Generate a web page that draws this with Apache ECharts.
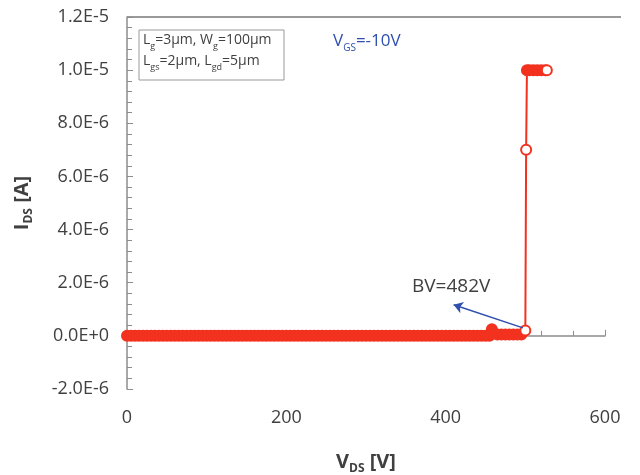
<!DOCTYPE html>
<html>
<head>
<meta charset="utf-8">
<script src="https://cdn.jsdelivr.net/npm/echarts@6/dist/echarts.min.js"></script>
<style>
html, body { margin: 0; padding: 0; background: #fff; }
#main { width: 640px; height: 475px; }
</style>
</head>
<body>
<div id="main"></div>
<script>
// V_DS sweep [V]
var vds = [
    0, 5, 10, 15, 20, 25, 30, 35, 40, 45, 50, 55, 60, 65, 70, 75, 80, 85, 90, 95,
    100, 105, 110, 115, 120, 125, 130, 135, 140, 145, 150, 155, 160, 165, 170, 175, 180, 185, 190, 195,
    200, 205, 210, 215, 220, 225, 230, 235, 240, 245, 250, 255, 260, 265, 270, 275, 280, 285, 290, 295,
    300, 305, 310, 315, 320, 325, 330, 335, 340, 345, 350, 355, 360, 365, 370, 375, 380, 385, 390, 395,
    400, 405, 410, 415, 420, 425, 430, 435, 440, 445, 450, 455,
    458, 460, 465, 470, 475, 480, 485, 490, 495,
    500, 501, 502, 505, 510, 515, 520, 525, 527
];
// I_DS [A]
var ids = [
    0, 0, 0, 0, 0, 0, 0, 0, 0, 0, 0, 0, 0, 0, 0, 0, 0, 0, 0, 0,
    0, 0, 0, 0, 0, 0, 0, 0, 0, 0, 0, 0, 0, 0, 0, 0, 0, 0, 0, 0,
    0, 0, 0, 0, 0, 0, 0, 0, 0, 0, 0, 0, 0, 0, 0, 0, 0, 0, 0, 0,
    0, 0, 0, 0, 0, 0, 0, 0, 0, 0, 0, 0, 0, 0, 0, 0, 0, 0, 0, 0,
    0, 0, 0, 0, 0, 0, 0, 0, 0, 0, 0, 0,
    2.5e-7, 1e-7, 5e-8, 5e-8, 5e-8, 5e-8, 5e-8, 5e-8, 5e-8,
    2e-7, 7e-6, 1e-5, 1e-5, 1e-5, 1e-5, 1e-5, 1e-5, 1e-5
];
// points drawn as open circles (not hidden under the dense sweep)
var openPoints = [500, 501, 527];
// breakdown annotation: arrow from BV point to the label
var bvArrowFrom = [497, 3e-7];
var bvArrowTo = [410, 1.17e-6];

var red = '#f2321f';
var blue = '#2f4fae';
var grey = '#8c8c8c';
var ink = '#404040';

function sciLabel(v) {
    if (Math.abs(v) < 1e-12) return '0.0E+0';
    var e = Math.floor(Math.log10(Math.abs(v)) + 1e-9);
    var m = v / Math.pow(10, e);
    return m.toFixed(1) + 'E' + (e < 0 ? '-' : '+') + Math.abs(e);
}

// rich styles for axis names with subscripts
var nameRich = {
    a: { fontSize: 20, fontWeight: 'bold', color: ink, lineHeight: 26, fontFamily: 'Open Sans' },
    s: { fontSize: 12, fontWeight: 'bold', color: ink, lineHeight: 15, verticalAlign: 'bottom', fontFamily: 'Open Sans' }
};

function CurveChart() {
    var myChart = echarts.init(document.getElementById('main'));

    var data = vds.map(function (v, i) {
        var item = { value: [v, ids[i]] };
        if (openPoints.indexOf(v) >= 0) {
            item.itemStyle = { color: '#fff' };
        }
        return item;
    });

    var option = {
        animation: false,
        textStyle: { fontFamily: 'Open Sans' },
        grid: { left: 127, right: 35, top: 17, bottom: 86, outerBoundsMode: 'none' },
        xAxis: {
            type: 'value',
            min: 0,
            max: 600,
            interval: 200,
            name: '{a|V}{s|DS}{a| [V]}',
            nameLocation: 'middle',
            nameGap: 60,
            nameTextStyle: { rich: nameRich },
            axisLine: { lineStyle: { color: grey, width: 1.5 } },
            axisTick: { inside: true, length: 6, lineStyle: { color: grey } },
            minorTick: { show: true, splitNumber: 5, length: 5, lineStyle: { color: grey } },
            axisLabel: { fontSize: 18, color: ink, margin: 20 },
            splitLine: { show: false }
        },
        yAxis: {
            type: 'value',
            min: -2e-6,
            max: 1.2e-5,
            interval: 2e-6,
            name: '{a|I}{s|DS}{a| [A]}',
            nameLocation: 'middle',
            nameGap: 92,
            nameRotate: 90,
            nameTextStyle: { rich: nameRich },
            axisLine: { show: true, lineStyle: { color: grey, width: 1.5 } },
            axisTick: { show: true, inside: true, length: 6, lineStyle: { color: grey } },
            minorTick: { show: true, splitNumber: 5, length: 5, lineStyle: { color: grey } },
            axisLabel: { fontSize: 18, color: ink, margin: 18, formatter: sciLabel },
            splitLine: { show: false }
        },
        series: [
            {
                type: 'line',
                data: data,
                showAllSymbol: true,
                symbol: 'circle',
                symbolSize: 10,
                lineStyle: { color: red, width: 2 },
                itemStyle: { color: red, borderColor: red, borderWidth: 2 },
                markLine: {
                    silent: true,
                    symbol: ['none', 'arrow'],
                    symbolSize: 9,
                    label: { show: false },
                    lineStyle: { color: blue, width: 1.5, type: 'solid' },
                    data: [[{ coord: bvArrowFrom }, { coord: bvArrowTo }]]
                }
            }
        ],
        graphic: [
            {
                type: 'line',
                shape: { x1: 127, y1: 17, x2: 621, y2: 17 },
                style: { stroke: '#999', lineWidth: 2 }
            },
            {
                type: 'rect',
                shape: { x: 139, y: 30, width: 145, height: 50 },
                style: { fill: '#fff', stroke: '#999', lineWidth: 1 }
            },
            {
                type: 'text',
                left: 143,
                top: 33,
                style: {
                    text: '{a|L}{s|g}{a|=3μm, W}{s|g}{a|=100μm}\n{a|L}{s|gs}{a|=2μm, L}{s|gd}{a|=5μm}',
                    rich: {
                        a: { fontSize: 14, fill: ink, lineHeight: 21, fontFamily: 'Open Sans' },
                        s: { fontSize: 9, fill: ink, lineHeight: 12, verticalAlign: 'bottom', fontFamily: 'Open Sans' }
                    }
                }
            },
            {
                type: 'text',
                left: 333,
                top: 33,
                style: {
                    text: '{a|V}{s|GS}{a|=-10V}',
                    rich: {
                        a: { fontSize: 17, fill: blue, lineHeight: 24, fontFamily: 'Open Sans' },
                        s: { fontSize: 10, fill: blue, lineHeight: 14, verticalAlign: 'bottom', fontFamily: 'Open Sans' }
                    }
                }
            },
            {
                type: 'text',
                left: 412,
                top: 277,
                style: {
                    text: 'BV=482V',
                    fontSize: 19,
                    fill: ink,
                    fontFamily: 'Open Sans'
                }
            }
        ]
    };

    myChart.setOption(option, true);
    return myChart;
}

window.onload = function () {
    var curveChart = CurveChart();
    window.onresize = function () {
        curveChart.resize();
    };
};
</script>
</body>
</html>
